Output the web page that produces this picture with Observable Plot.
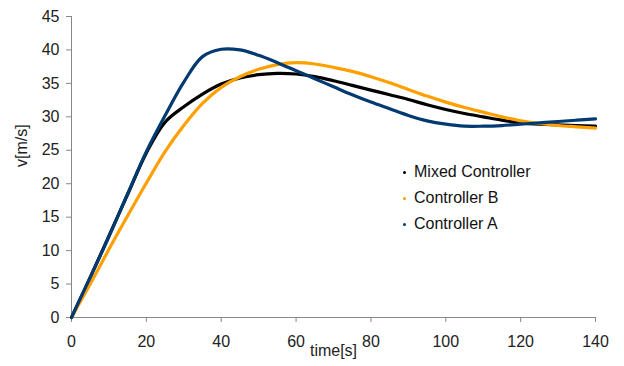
<!DOCTYPE html>
<html><head><meta charset="utf-8">
<script src="https://cdn.jsdelivr.net/npm/d3@7"></script>
<script src="https://cdn.jsdelivr.net/npm/@observablehq/plot@0.6"></script>
<style>
body{margin:0;background:#fff;font-family:"Liberation Sans",Arial,sans-serif;}
#wrap{position:relative;width:624px;height:366px;}
#legend{position:absolute;left:403px;top:159px;font-size:16px;color:#111;font-family:"Liberation Sans",Arial,sans-serif;}
.row{display:flex;align-items:center;height:26px;}
.sw{width:3px;height:3px;border-radius:50%;margin-right:8px;}
</style></head><body><div id="wrap"></div>
<script>
const time = [0,5,10,15,20,25,30,35,40,45,50,55,60,65,70,75,80,85,90,95,100,105,110,115,120,125,130,135,140];
const mixedController = [0,6,12.2,18.4,24.6,29.2,31.5,33.4,34.9,35.8,36.3,36.5,36.4,36,35.4,34.7,34,33.3,32.6,31.8,31.1,30.5,30,29.5,29.1,28.9,28.8,28.7,28.6];
const controllerB = [0,5,10.2,15.2,20.1,24.8,28.7,32,34.4,36,37.1,37.8,38.1,37.9,37.4,36.8,36,35.1,34.1,33.1,32.2,31.4,30.7,30,29.4,29,28.7,28.5,28.3];
const controllerA = [0,6,12.1,18.5,24.8,30.2,35.2,39,40.1,40,39.2,38.1,36.9,35.7,34.5,33.3,32.2,31.2,30.2,29.4,28.9,28.6,28.6,28.7,28.9,29.1,29.3,29.5,29.7];
const seriesNames = ["Mixed Controller","Controller B","Controller A"];
const seriesColors = ["#000000","#ffa000","#003a70"];
const xTicks = [0,20,40,60,80,100,120,140];
const yTicks = [0,5,10,15,20,25,30,35,40,45];

const seriesValues = [mixedController, controllerB, controllerA];
const rows = [];
seriesValues.forEach((vals, s) => vals.forEach((v, i) => rows.push({t: time[i], v, series: seriesNames[s]})));

const chart = Plot.plot({
  width: 624, height: 366,
  marginLeft: 71, marginRight: 29, marginTop: 16, marginBottom: 49,
  style: {fontFamily: '"Liberation Sans", Arial, sans-serif', fontSize: "16px", background: "#fff"},
  x: {domain: [0, 140]},
  y: {domain: [0, 45]},
  color: {domain: seriesNames, range: seriesColors},
  marks: [
    Plot.ruleX([0], {stroke: "#888"}),
    Plot.ruleY([0], {stroke: "#888"}),
    Plot.axisX({ticks: xTicks, tickSize: 5, tickPadding: 13, stroke: "#888", fill: "#222", label: null}),
    Plot.axisY({ticks: yTicks, tickSize: 5, tickPadding: 7, stroke: "#888", fill: "#222", label: null}),
    Plot.line(rows, {x: "t", y: "v", z: "series", stroke: "series", strokeWidth: 3.2, curve: "catmull-rom"}),
    Plot.text(["v[m/s]"], {frameAnchor: "left", rotate: -90, dx: -50, fill: "#222"}),
    Plot.text(["time[s]"], {frameAnchor: "bottom", dy: 38, fill: "#222"})
  ]
});
const wrap = document.getElementById("wrap");
wrap.appendChild(chart);
const legend = document.createElement("div");
legend.id = "legend";
seriesNames.forEach((n, i) => {
  const r = document.createElement("div"); r.className = "row";
  const sw = document.createElement("span"); sw.className = "sw"; sw.style.background = seriesColors[i];
  const tx = document.createElement("span"); tx.textContent = n;
  r.appendChild(sw); r.appendChild(tx); legend.appendChild(r);
});
wrap.appendChild(legend);
</script></body></html>
